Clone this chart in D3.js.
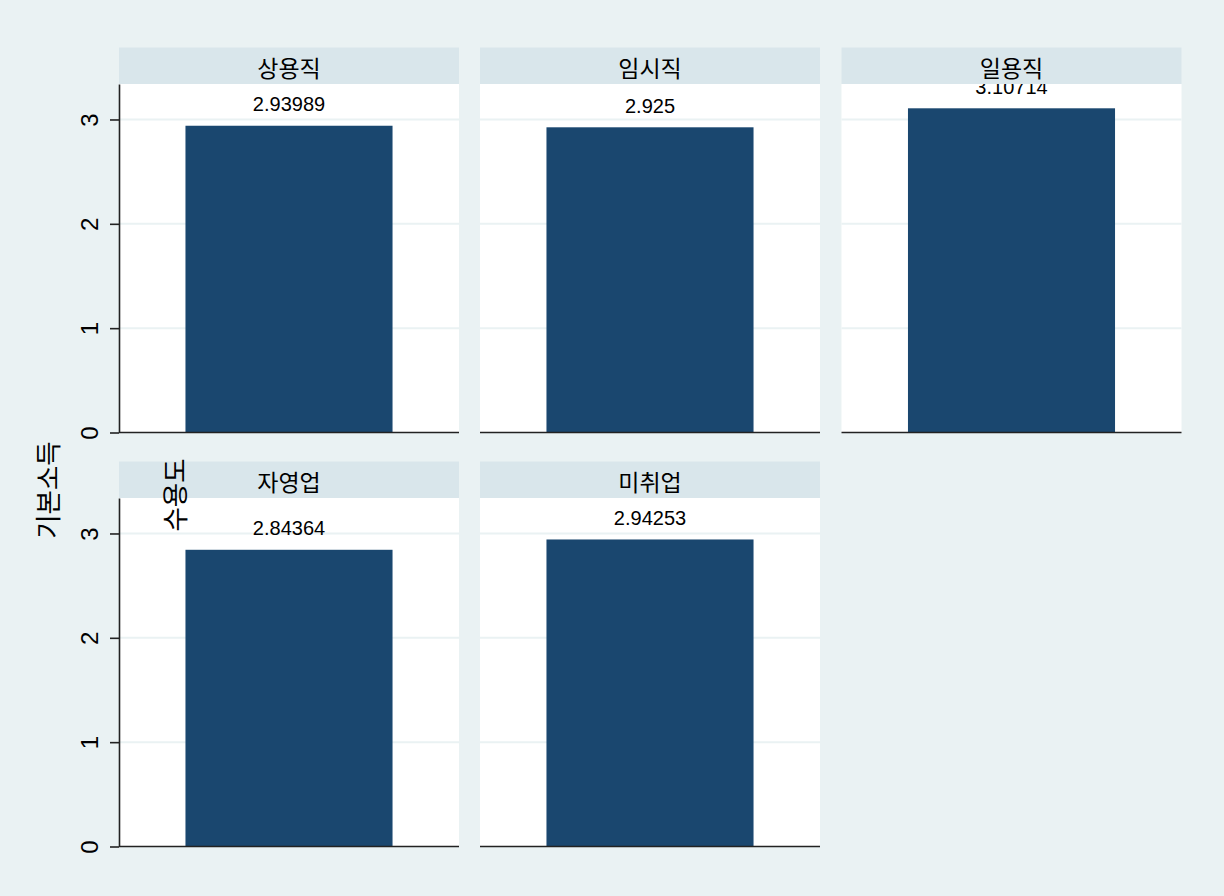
<!DOCTYPE html>
<html>
<head>
<meta charset="utf-8">
<script src="https://cdn.jsdelivr.net/npm/d3@7"></script>
<style>
html,body{margin:0;padding:0;background:#eaf2f3;}
svg{display:block;}
</style>
</head>
<body>
<script>
const categories = ["상용직", "임시직", "일용직", "자영업", "미취업"];
const values = [2.93989, 2.925, 3.10714, 2.84364, 2.94253];
const valueLabels = ["2.93989", "2.925", "3.10714", "2.84364", "2.94253"];
const yTicks = [0, 1, 2, 3];
const yTitleLines = ["기본소득", "수용도"];

const W = 1224, H = 896;
const svg = d3.select("body").append("svg").attr("width", W).attr("height", H);
svg.append("rect").attr("width", W).attr("height", H).attr("fill", "#eaf2f3");

const colX = [119, 480, 841.5];
const panelW = 340;
const headerTop = [47.5, 461.5];
const headerH = 36.5;
const plotH = 348.5;

const y = d3.scaleLinear().domain([0, 3.34]).range([plotH, 0]);

const numFont = "'Liberation Sans', Arial, sans-serif";
const krFont = "'Noto Sans CJK KR', sans-serif";

categories.forEach((cat, i) => {
  const col = i % 3, row = Math.floor(i / 3);
  const x0 = colX[col];
  const top = headerTop[row] + headerH;
  const g = svg.append("g").attr("transform", `translate(${x0},${top})`);

  g.append("rect").attr("x", 0).attr("y", 0).attr("width", panelW).attr("height", plotH).attr("fill", "#ffffff");

  g.selectAll("line.grid").data(yTicks.filter(t => t > 0)).enter().append("line")
    .attr("x1", 0).attr("x2", panelW)
    .attr("y1", d => y(d)).attr("y2", d => y(d))
    .attr("stroke", "#eaf2f3").attr("stroke-width", 2);

  const x = d3.scaleBand().domain([cat]).range([0, panelW]).paddingInner(0.243).paddingOuter(0.243);

  g.append("rect")
    .attr("x", x(cat)).attr("width", x.bandwidth())
    .attr("y", y(values[i])).attr("height", plotH - y(values[i]))
    .attr("fill", "#1a476f");

  g.append("text")
    .attr("x", x(cat) + x.bandwidth() / 2)
    .attr("y", y(values[i]) - 14.5)
    .attr("text-anchor", "middle")
    .attr("font-family", numFont).attr("font-size", 20).attr("fill", "#000")
    .text(valueLabels[i]);

  g.append("line").attr("x1", 0).attr("x2", panelW).attr("y1", plotH).attr("y2", plotH)
    .attr("stroke", "#222").attr("stroke-width", 1.6);

  if (col === 0) {
    const ax = g.append("g").call(d3.axisLeft(y).tickValues(yTicks).tickSize(9).tickSizeOuter(0).tickFormat(d3.format("d")));
    ax.select(".domain").attr("stroke", "#222").attr("stroke-width", 1.6);
    ax.selectAll(".tick line").attr("stroke", "#222").attr("stroke-width", 1.6);
    ax.selectAll(".tick text")
      .attr("transform", "rotate(-90)")
      .attr("x", 0).attr("dy", null).attr("y", -29.5)
      .attr("text-anchor", "middle")
      .attr("dominant-baseline", "central")
      .attr("font-family", numFont).attr("font-size", 24).attr("fill", "#000");
  }

  svg.append("rect").attr("x", x0).attr("y", headerTop[row]).attr("width", panelW).attr("height", headerH)
    .attr("fill", "#d9e6eb");
  svg.append("text")
    .attr("x", x0 + panelW / 2).attr("y", headerTop[row] + headerH / 2 + 1)
    .attr("text-anchor", "middle").attr("dominant-baseline", "central")
    .attr("font-family", krFont).attr("font-size", 23).attr("fill", "#000")
    .text(cat);
});

const titlePos = [[46, 490], [173, 495]];
yTitleLines.forEach((t, k) => {
  svg.append("text")
    .attr("transform", `translate(${titlePos[k][0]},${titlePos[k][1]}) rotate(-90)`)
    .attr("text-anchor", "middle").attr("dominant-baseline", "central")
    .attr("font-family", krFont).attr("font-size", 26.5).attr("fill", "#000")
    .text(t);
});
</script>
</body>
</html>
